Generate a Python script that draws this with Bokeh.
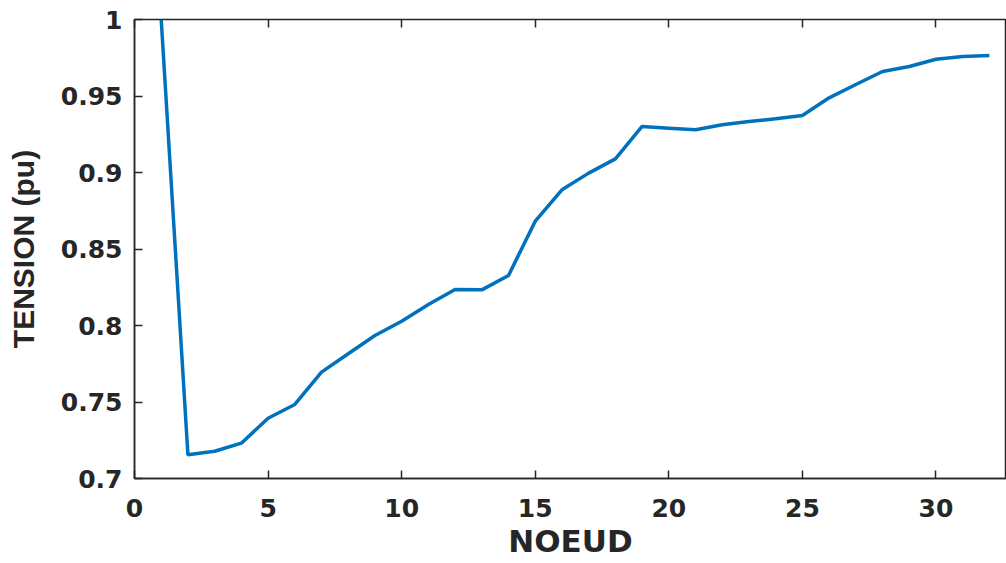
from bokeh.plotting import figure
from bokeh.models import LinearAxis, FixedTicker, Range1d, CustomJSTickFormatter
from bokeh.embed import file_html
from bokeh.resources import INLINE

# Data
noeud = list(range(1, 33))
tension = [1.0, 0.7155, 0.7178, 0.7231, 0.7394, 0.7484, 0.7695, 0.7815,
           0.7935, 0.8028, 0.8137, 0.8235, 0.8233, 0.8327, 0.8682, 0.8887,
           0.8996, 0.9089, 0.9301, 0.9290, 0.9279, 0.9312, 0.9333, 0.9351,
           0.9373, 0.9488, 0.9575, 0.9660, 0.9693, 0.9740, 0.9758, 0.9765]
x_ticks = [0, 5, 10, 15, 20, 25, 30]
y_ticks = [0.7, 0.75, 0.8, 0.85, 0.9, 0.95, 1.0]
y_tick_labels = ["0.7", "0.75", "0.8", "0.85", "0.9", "0.95", "1"]
x_label = "NOEUD"
y_label = "TENSION (pu)"

dark = "#262626"
tick_font = "DejaVu Sans"

p = figure(width=1006, height=563, output_backend="svg", toolbar_location=None,
           x_range=Range1d(0, 32.64), y_range=Range1d(0.7, 1.0),
           min_border_left=134, min_border_right=0, min_border_top=19,
           min_border_bottom=85, x_axis_location="below")
p.background_fill_color = "white"
p.border_fill_color = "white"
p.outline_line_color = dark
p.outline_line_width = 1.5
p.xgrid.visible = False
p.ygrid.visible = False

p.line(noeud, tension, line_color="#0072BD", line_width=3.5)

xa = p.xaxis[0]
xa.ticker = FixedTicker(ticks=x_ticks)
ya = p.yaxis[0]
ya.ticker = FixedTicker(ticks=y_ticks)
ya.major_label_overrides = {t: l for t, l in zip(y_ticks, y_tick_labels)}

for ax in (xa, ya):
    ax.major_tick_in = 8
    ax.major_tick_out = 0
    ax.minor_tick_in = 0
    ax.minor_tick_out = 0
    ax.major_tick_line_color = dark
    ax.major_tick_line_width = 1.5
    ax.axis_line_color = dark
    ax.axis_line_width = 1.5
    ax.major_label_text_font = tick_font
    ax.major_label_text_font_style = "bold"
    ax.major_label_text_font_size = "25px"
    ax.major_label_text_color = dark
    ax.axis_label_text_font_style = "bold"
    ax.axis_label_text_color = dark

xa.axis_label = x_label
xa.axis_label_text_font = "DejaVu Sans"
xa.axis_label_text_font_size = "31px"
xa.major_label_standoff = 20
xa.axis_label_standoff = 3

ya.axis_label = y_label
ya.axis_label_text_font = "Liberation Sans"
ya.axis_label_text_font_size = "30px"
ya.major_label_standoff = 12
ya.axis_label_standoff = 18

top = LinearAxis(ticker=FixedTicker(ticks=x_ticks),
                 formatter=CustomJSTickFormatter(code="return ''"),
                 major_tick_in=8, major_tick_out=0, minor_tick_in=0,
                 minor_tick_out=0, major_tick_line_color=dark,
                 major_tick_line_width=1.5, axis_line_color=None,
                 major_label_text_font_size="10px", major_label_standoff=0)
p.add_layout(top, "above")

open("out.html", "w").write(file_html(p, INLINE))
